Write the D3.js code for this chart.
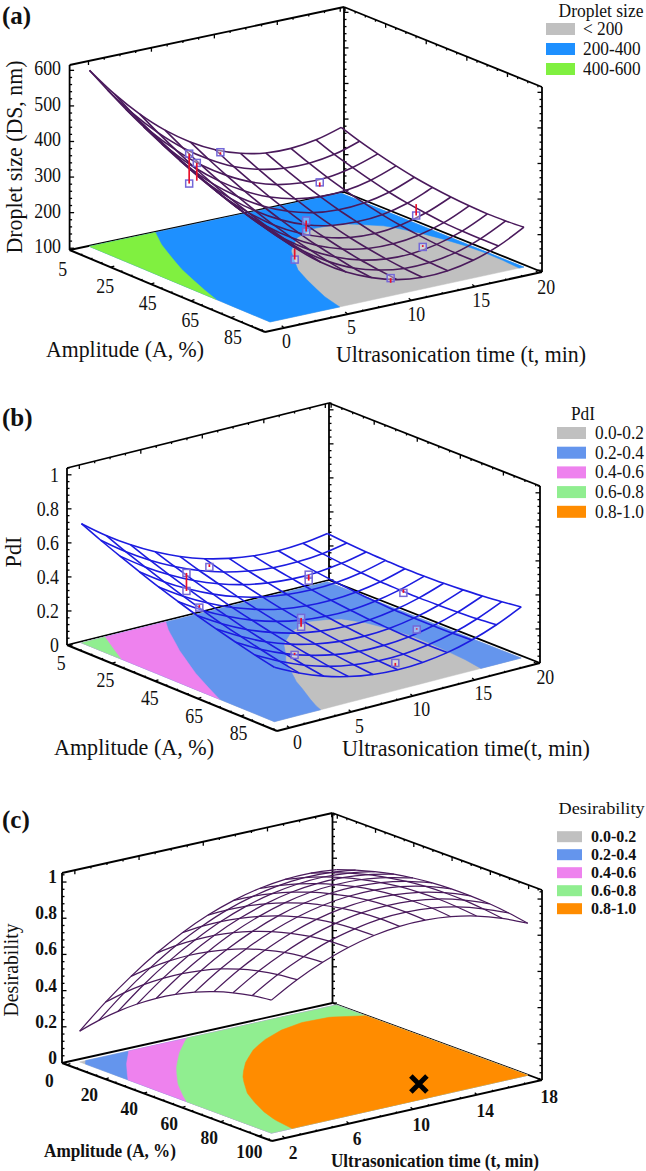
<!DOCTYPE html>
<html><head><meta charset="utf-8">
<style>html,body{margin:0;padding:0;background:#fff}svg{display:block}text{font-family:"Liberation Serif",serif;fill:#111}</style>
<script src="https://cdn.jsdelivr.net/npm/d3@7"></script></head><body><div id="c"></div>
<script>
// ---------- data ----------
const timesA=[0,2,4,6,8,10,12,14,16,18,20];
const ampsA=[5,14,23,32,41,50,59,68,77,86,95];
const dropletGrid=[
[590,508,437,377,329,292,267,253,251,260,280],
[556,475,406,348,302,266,243,231,230,240,262],
[524,445,378,321,277,243,221,211,211,224,247],
[495,418,351,297,254,222,202,193,195,209,234],
[468,392,327,275,233,203,184,177,181,196,223],
[443,369,306,255,215,186,169,164,169,186,215],
[420,348,287,237,199,172,156,152,160,179,209],
[400,329,270,222,185,160,146,144,153,173,205],
[382,313,255,209,174,150,138,137,148,170,203],
[366,299,243,198,164,143,132,133,145,169,204],
[353,287,232,189,158,137,128,131,145,170,207]];
const pointsA=[[0,54.7,389,473,1],[0,58.5,456,406,0],[10.4,5,282,276,0],[16.2,18,184,172,0],[10,50,198,167,1],[4,82,209,240,0],[18.7,50,146,178,0],[14.1,82,167,172,0],[9.5,95,145,132,0]];
const zTicksA=[100,200,300,400,500,600];
const aTicksA=[5,25,45,65,85];
const tTicksA=[0,5,10,15,20];
const levelsA=[0,200,400];
const legendA=["< 200","200-400","400-600"];

const timesB=[0,2,4,6,8,10,12,14,16,18,20];
const ampsB=[5,14,23,32,41,50,59,68,77,86,95];
const pdiGrid=[
[.700,.595,.504,.427,.364,.315,.281,.260,.254,.262,.284],
[.649,.547,.460,.387,.327,.282,.252,.235,.234,.246,.273],
[.602,.504,.420,.350,.295,.254,.228,.215,.217,.234,.265],
[.557,.462,.382,.316,.264,.227,.205,.196,.203,.224,.260],
[.514,.423,.346,.283,.236,.202,.184,.180,.191,.216,.256],
[.475,.387,.314,.255,.211,.182,.168,.167,.183,.213,.257],
[.438,.353,.283,.229,.188,.163,.153,.156,.176,.211,.260],
[.405,.324,.257,.206,.170,.148,.142,.150,.174,.213,.266],
[.374,.296,.233,.186,.153,.135,.133,.145,.174,.217,.275],
[.345,.271,.211,.167,.139,.125,.127,.143,.175,.223,.286],
[.320,.249,.193,.153,.128,.118,.124,.144,.181,.233,.300]];
const pointsB=[[0,54,.557,.663,1],[10.4,5,.259,.275,0],[0,60,.49,.505,0],[16.2,18,.14,.175,1],[10,50,.143,.195,1],[3.9,82,.253,.265,0],[18.3,50,.19,.21,0],[13.8,82,.218,.225,0],[9.8,95,.162,.145,0]];
const zTicksB=[0,.2,.4,.6,.8,1];
const aTicksB=[5,25,45,65,85];
const tTicksB=[0,5,10,15,20];
const levelsB=[0,.2,.4,.6,.8];
const legendB=["0.0-0.2","0.2-0.4","0.4-0.6","0.6-0.8","0.8-1.0"];

const timesC=[2,3.6,5.2,6.8,8.4,10,11.6,13.2,14.8,16.4,18];
const ampsC=[0,10,20,30,40,50,60,70,80,90,100];
const desirGrid=[
[.170,.298,.410,.507,.588,.654,.704,.738,.757,.760,.748],
[.269,.391,.496,.587,.662,.722,.765,.793,.806,.802,.784],
[.358,.474,.574,.658,.728,.782,.819,.841,.848,.838,.814],
[.438,.548,.643,.722,.785,.833,.866,.882,.883,.868,.839],
[.509,.614,.702,.777,.835,.878,.905,.916,.912,.891,.857],
[.570,.670,.754,.823,.877,.915,.937,.943,.934,.909,.869],
[.622,.718,.797,.861,.910,.943,.961,.963,.950,.920,.875],
[.664,.756,.830,.891,.936,.965,.978,.976,.958,.924,.875],
[.697,.785,.856,.913,.953,.979,.987,.981,.960,.922,.870],
[.721,.805,.872,.926,.962,.985,.990,.981,.955,.913,.858],
[.735,.816,.880,.930,.964,.983,.985,.972,.944,.899,.840]];
const optimumC=[12.7,88];
const zTicksC=[0,.2,.4,.6,.8,1];
const aTicksC=[0,20,40,60,80,100];
const tTicksC=[2,6,10,14,18];
const levelsC=[0,.2,.4,.6,.8];
const legendC=legendB;

// ---------- panel layout ----------
const fiveColors=["#c0c0c0","#6495ed","#ee82ee","#90ee90","#ff8c00"];
const panels=[
{tag:"(a)",tagY:24,grid:dropletGrid,times:timesA,amps:ampsA,points:pointsA,levels:levelsA,colors:["#c0c0c0","#1e90ff","#80f040"],
 zT:zTicksA,aT:aTicksA,tT:tTicksA,zFmt:d=>d,zDy:-2,
 L:[69.6,250],F:[265,332],R:[542,272],B:[344,192],H:185,tD:[-1.5,20.3],aD:[4.5,102],zD:[95,615],
 wire:"#4a1a5c",wireW:1.6,bold:false,tickFont:20.5,tickSq:.87,tickX:61,
 aOff:[[-8,18.5],[2,19]],tOff:[[2.5,13],[8,14]],
 zTitle:{text:"Droplet size (DS, nm)",x:14,y:157,len:193,size:24},aTitle:{text:"Amplitude (A, %)",x:125,y:349,len:158,size:23},tTitle:{text:"Ultrasonication time (t, min)",x:461,y:354,len:250,size:23},
 leg:{title:"Droplet size",tx:601,ty:11,tlen:85,labels:legendA,sx:546,sw:29,sh:12,y0:29,dy:20,lx:583,size:18,sq:.96}},
{tag:"(b)",tagY:426,grid:pdiGrid,times:timesB,amps:ampsB,points:pointsB,levels:levelsB,colors:fiveColors,
 zT:zTicksB,aT:aTicksB,tT:tTicksB,zFmt:d=>d,zDy:0,
 L:[67,645],F:[277,731],R:[540,663],B:[329,580],H:177,tD:[-1,20.3],aD:[4,102],zD:[0,1.04],
 wire:"#1c1ce0",wireW:1.6,bold:false,tickFont:20.5,tickSq:.87,tickX:59,
 aOff:[[-8,17],[-2,17]],tOff:[[8,14],[9,13]],
 zTitle:{text:"PdI",x:13,y:552,len:31,size:23},aTitle:{text:"Amplitude (A, %)",x:134,y:747,len:160,size:23},tTitle:{text:"Ultrasonication time(t, min)",x:466,y:748,len:248,size:23},
 leg:{title:"PdI",tx:583,ty:414,tlen:24,labels:legendB,sx:557,sw:29,sh:12,y0:433,dy:19.7,lx:595,size:18,sq:.96}},
{tag:"(c)",tagY:828,grid:desirGrid,times:timesC,amps:ampsC,points:[],levels:levelsC,colors:fiveColors,
 zT:zTicksC,aT:aTicksC,tT:tTicksC,zFmt:d=>d,zDy:-5,
 L:[62,1063],F:[272,1141],R:[542,1080],B:[332.5,1003],H:190,tD:[1.2,18.05],aD:[-2.5,107],zD:[0,1.05],
 wire:"#4a1a5c",wireW:1.25,bold:true,tickFont:18,tickSq:.97,tickX:57,
 aOff:[[-17.4,16],[-9.3,16]],tOff:[[8.4,15],[8,17]],
 zTitle:{text:"Desirability",x:11,y:970,len:93,size:20},aTitle:{text:"Amplitude (A, %)",x:110,y:1151,len:132,size:18.5,bold:true},tTitle:{text:"Ultrasonication time (t, min)",x:435,y:1161,len:208,size:18,bold:true},
 leg:{title:"Desirability",tx:601.6,ty:808,tlen:86,labels:legendC,sx:557,sw:25,sh:11,y0:836.7,dy:18,lx:591,size:17,sq:.94,labelBold:true},
 optimum:optimumC}
];

// ---------- drawing ----------
const svg=d3.select("#c").append("svg").attr("width",646).attr("height",1171);
panels.forEach(drawPanel);

function squeeze(e,f){
  const n=e.node().getComputedTextLength();
  return e.attr("textLength",n*f).attr("lengthAdjust","spacingAndGlyphs");
}

function drawPanel(P){
  const g=svg.append("g");
  const sT=d3.scaleLinear().domain(P.tD).range([0,1]);
  const sA=d3.scaleLinear().domain(P.aD).range([0,1]);
  const sZ=d3.scaleLinear().domain(P.zD).range([0,-P.H]);
  const zBase=P.zD[0];
  const proj=(t,a,z)=>{
    const u=sT(t),v=sA(a);
    const f=k=>(1-u)*(1-v)*P.L[k]+(1-u)*v*P.F[k]+u*v*P.R[k]+u*(1-v)*P.B[k];
    return [f(0),f(1)+sZ(z)];
  };
  const tMin=P.tD[0],tMax=P.tD[1],aMin=P.aD[0],aMax=P.aD[1],zMax=P.zD[1];
  const seg=(a,b,w=1.8)=>g.append("line").attr("x1",a[0]).attr("y1",a[1]).attr("x2",b[0]).attr("y2",b[1]).attr("stroke","#000").attr("stroke-width",w);

  // back box edges
  seg(proj(tMin,aMin,zBase),proj(tMax,aMin,zBase));
  seg(proj(tMax,aMin,zBase),proj(tMax,aMax,zBase));
  seg(proj(tMin,aMin,zBase),proj(tMin,aMin,zMax));
  seg(proj(tMax,aMin,zBase),proj(tMax,aMin,zMax));
  seg(proj(tMax,aMax,zBase),proj(tMax,aMax,zMax));
  seg(proj(tMin,aMin,zMax),proj(tMax,aMin,zMax));
  seg(proj(tMax,aMin,zMax),proj(tMax,aMax,zMax));

  // vertical axis ticks
  const zStep=P.zT[1]-P.zT[0];
  const zMinor=d3.range(P.zT[0]-zStep,zMax+1e-6,zStep/5).filter(d=>d>=zBase&&d<=zMax);
  zMinor.forEach(z=>{
    const major=P.zT.some(m=>Math.abs(m-z)<zStep/50), len=major?4.5:2.5;
    [[tMin,aMin,1],[tMax,aMin,1],[tMax,aMax,-1]].forEach(([t,a,s])=>{
      const p=proj(t,a,z); seg(p,[p[0]+s*len,p[1]],1.3);
    });
  });
  // horizontal axis ticks
  const tStep=P.tT[1]-P.tT[0], aStep=P.aT[1]-P.aT[0];
  const tAll=d3.range(P.tT[0],tMax,tStep/4), aAll=d3.range(P.aT[0],aMax,aStep/4);
  tAll.forEach((t,i)=>{
    const len=i%4==0?4:2;
    const p=proj(t,aMin,zMax); seg(p,[p[0],p[1]+len],1.3);
    const q=proj(t,aMax,zBase); seg(q,[q[0]-len*.6,q[1]-len*.5],1.3);
  });
  aAll.forEach((a,i)=>{
    const len=i%4==0?4:2;
    const p=proj(tMax,a,zMax); seg(p,[p[0],p[1]+len],1.3);
    const q=proj(tMin,a,zBase); seg(q,[q[0]+len*.9,q[1]-len*.3],1.3);
  });

  // floor contours from the surface values
  const n=P.grid[0].length,m=P.grid.length;
  const cx=d3.scaleLinear().domain([.5,n-.5]).range(d3.extent(P.times)).clamp(true);
  const cy=d3.scaleLinear().domain([.5,m-.5]).range(d3.extent(P.amps)).clamp(true);
  const floorPath=d3.geoPath(d3.geoTransform({point(x,y){const p=proj(cx(x),cy(y),zBase);this.stream.point(p[0],p[1]);}}));
  const contours=d3.contours().size([n,m]).thresholds(P.levels)(P.grid.flat());
  contours.forEach((c,i)=>{
    if(c.coordinates.length) g.append("path").attr("d",floorPath(c)).attr("fill",P.colors[i]).attr("stroke",P.colors[i]).attr("stroke-width",.5);
  });

  // front box edges
  seg(proj(tMin,aMin,zBase),proj(tMin,aMax,zBase),2);
  seg(proj(tMin,aMax,zBase),proj(tMax,aMax,zBase),2);

  // wireframe
  const line=d3.line().curve(d3.curveCatmullRom.alpha(.5));
  const wire=pts=>g.append("path").attr("d",line(pts)).attr("fill","none").attr("stroke",P.wire).attr("stroke-width",P.wireW);
  P.grid.forEach((row,i)=>wire(row.map((z,j)=>proj(P.times[j],P.amps[i],z))));
  P.times.forEach((t,j)=>wire(P.grid.map((row,i)=>proj(t,P.amps[i],row[j]))));

  // observed points
  P.points.forEach(([t,a,z,z2,both])=>{
    const p=proj(t,a,z),q=proj(t,a,z2);
    const box=c=>g.append("rect").attr("x",c[0]-3.5).attr("y",c[1]-3.5).attr("width",7).attr("height",7).attr("fill","#ffffff").attr("fill-opacity",.35).attr("stroke","#7468d8").attr("stroke-width",1.5);
    box(p); if(both) box(q);
    g.append("line").attr("x1",p[0]).attr("y1",p[1]).attr("x2",q[0]).attr("y2",q[1]).attr("stroke","#e8102a").attr("stroke-width",1.7);
  });

  // optimum mark
  if(P.optimum){
    const p=proj(P.optimum[0],P.optimum[1],zBase);
    g.append("path").attr("d",d3.symbol(d3.symbolTimes,170)()).attr("transform",`translate(${p[0]-1},${p[1]-2})`).attr("fill","none").attr("stroke","#000").attr("stroke-width",5);
  }

  // tick labels
  const weight=P.bold?"bold":"normal";
  const label=(x,y,s,anchor="middle")=>squeeze(g.append("text").attr("x",x).attr("y",y).attr("text-anchor",anchor).attr("dominant-baseline","central").attr("font-size",P.tickFont).attr("font-weight",weight).text(s),P.tickSq);
  P.zT.forEach(z=>{const p=proj(tMin,aMin,z);label(P.tickX,p[1]+P.zDy,P.zFmt(z),"end");});
  const lerp=(o,f)=>[o[0][0]+(o[1][0]-o[0][0])*f,o[0][1]+(o[1][1]-o[0][1])*f];
  P.aT.forEach((a,i)=>{const p=proj(tMin,a,zBase),o=lerp(P.aOff,i/(P.aT.length-1));label(p[0]+o[0],p[1]+o[1],a);});
  P.tT.forEach((t,i)=>{const p=proj(t,aMax,zBase),o=lerp(P.tOff,i/(P.tT.length-1));label(p[0]+o[0],p[1]+o[1],t);});

  // titles
  const title=(o,rot)=>{
    const e=g.append("text").attr("text-anchor","middle").attr("dominant-baseline","central").attr("font-size",o.size).attr("font-weight",o.bold?"bold":"normal").attr("textLength",o.len).attr("lengthAdjust","spacingAndGlyphs").text(o.text);
    if(rot) e.attr("transform",`translate(${o.x},${o.y}) rotate(-90)`); else e.attr("x",o.x).attr("y",o.y);
  };
  title(P.zTitle,true);title(P.aTitle);title(P.tTitle);
  g.append("text").attr("x",2).attr("y",P.tagY).attr("font-size",25).attr("font-weight","bold").text(P.tag);

  // legend
  const L=P.leg;
  g.append("text").attr("x",L.tx).attr("y",L.ty).attr("text-anchor","middle").attr("dominant-baseline","central").attr("font-size",L.size).attr("textLength",L.tlen).attr("lengthAdjust","spacingAndGlyphs").text(L.title);
  L.labels.forEach((s,i)=>{
    const y=L.y0+i*L.dy;
    g.append("rect").attr("x",L.sx).attr("y",y-L.sh/2).attr("width",L.sw).attr("height",L.sh).attr("fill",P.colors[i]);
    squeeze(g.append("text").attr("x",L.lx).attr("y",y).attr("dominant-baseline","central").attr("font-size",L.size).attr("font-weight",L.labelBold?"bold":"normal").text(s),L.sq);
  });
}
</script></body></html>
